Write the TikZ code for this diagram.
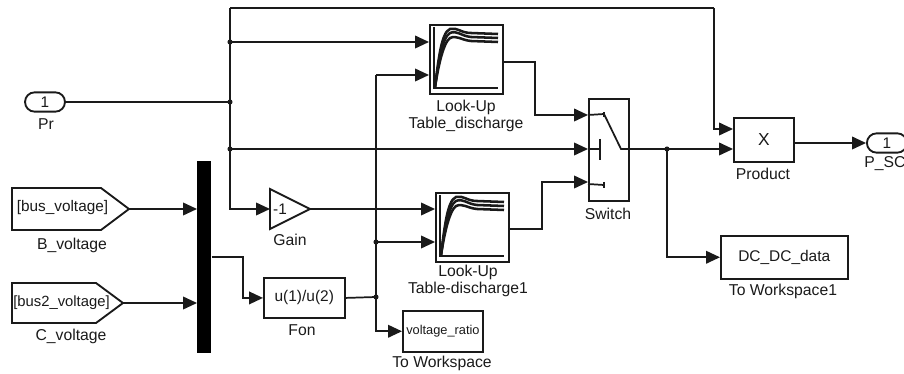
\documentclass[tikz,border=0pt]{standalone}
\usepackage{fontspec}
\setmainfont{Liberation Sans}
\usetikzlibrary{arrows.meta,shapes.misc}
\definecolor{ink}{HTML}{1A1A1A}
\tikzset{
  wire/.style={draw=ink,line width=1.3pt},
  sig/.style={wire,-{Triangle[length=10.5pt,width=9.5pt]}},
  blockbox/.style={draw=ink,line width=1.4pt,rectangle,inner sep=0pt,fill=white,font=\fontsize{11.6}{13}\selectfont,text=ink},
  portbox/.style={blockbox,rounded rectangle,font=\fontsize{11.5}{12}\selectfont},
  lbl/.style={inner sep=0pt,align=center,text=ink,font=\fontsize{11.8}{12.9}\selectfont},
  tagtext/.style={inner sep=0pt,text=ink,font=\fontsize{11.5}{13}\selectfont},
  dotj/.style={circle,fill=ink,inner sep=0pt,minimum size=3.8pt},
  lutcurve/.style={draw=ink,line width=1.9pt},
  axisline/.style={draw=ink,line width=1.2pt}
}
\newcommand{\lutbox}[3]{%
  \node[blockbox,anchor=north west,minimum width=54.5pt,minimum height=51.5pt] (#1) at (#2,#3) {};
  \begin{scope}[shift={(#2,#3)}]
    \draw[axisline] (5,3) -- (5,64) -- (69,64);
    \draw[lutcurve] (6,63) .. controls (9,40) and (12,8) .. (21,5) .. controls (28,3) and (32,9) .. (42,9) -- (69,10);
    \draw[lutcurve] (6,63) .. controls (9,42) and (13,13) .. (21,9) .. controls (28,6) and (32,12) .. (42,13) -- (69,14);
    \draw[lutcurve] (6,63) .. controls (9,44) and (14,19) .. (21,14) .. controls (28,11) and (32,16) .. (42,17) -- (69,18);
  \end{scope}%
}
\begin{document}
\begin{tikzpicture}[x=0.75pt,y=-0.75pt]
\useasboundingbox (0,0) rectangle (904,374);
% ports
\node[portbox,minimum width=30pt,minimum height=14.5pt,anchor=center] (pr) at (45,102) {1};
\node[lbl] (prl) at (46,124) {Pr};
\node[portbox,minimum width=30pt,minimum height=14.5pt,anchor=west] (psc) at (866,143) {1};
\node[lbl] (pscl) at (885,164) {P\_SC};
% goto blocks
\node[inner sep=0pt,minimum size=0pt] (bv) at (129,209) {};
\node[inner sep=0pt,minimum size=0pt] (cv) at (123,303) {};
\draw[ink,line width=1.4pt,fill=white] (12,188) -- (101,188) -- (bv.center) -- (101,230) -- (12,230) -- cycle;
\draw[ink,line width=1.4pt,fill=white] (12,283) -- (96,283) -- (cv.center) -- (96,323) -- (12,323) -- cycle;
\node[tagtext] (bvt) at (62.5,208) {[bus\_voltage]};
\node[tagtext,font=\fontsize{11.1}{13}\selectfont] (cvt) at (61.5,303) {[bus2\_voltage]};
\node[lbl] (bvl) at (72,245) {B\_voltage};
\node[lbl] (cvl) at (71,336) {C\_voltage};
% mux
\node[draw=none,fill=black,anchor=north west,inner sep=0pt,minimum width=10.5pt,minimum height=144pt] (mux) at (197,161) {};
% gain
\node[inner sep=0pt,minimum size=0pt] (gaintip) at (310,209) {};
\coordinate (gainin) at (270,209);
\draw[ink,line width=1.4pt,fill=white] (270,189) -- (gaintip.center) -- (270,229) -- cycle;
\node[tagtext] (gaint) at (280,209) {-1};
\node[lbl] (gainl) at (290,240) {Gain};
% fon
\node[blockbox,anchor=north west,minimum width=60.5pt,minimum height=30pt] (fon) at (263,277) {u(1)/u(2)};
\node[lbl] (fonl) at (302,330) {Fon};
% LUTs
\lutbox{lutA}{429}{24}
\lutbox{lutB}{435}{192}
\node[lbl] (lutAl) at (466,116) {Look-Up\\Table\_discharge};
\node[lbl] (lutBl) at (468,281) {Look-Up\\Table-discharge1};
% to workspace
\node[blockbox,anchor=north west,minimum width=60pt,minimum height=30.5pt,font=\fontsize{9.6}{11}\selectfont] (tw) at (402,310) {voltage\_ratio};
\node[lbl] (twl) at (442,363) {To Workspace};
\node[blockbox,anchor=north west,minimum width=95pt,minimum height=32pt] (dc) at (720,235) {DC\_DC\_data};
\node[lbl] (dcl) at (783,291) {To Workspace1};
% product
\node[blockbox,anchor=north west,minimum width=45pt,minimum height=33pt,font=\fontsize{13}{14}\selectfont] (prod) at (733,117) {X};
\node[lbl] (prodl) at (763,174) {Product};
% switch
\node[blockbox,anchor=north west,minimum width=30pt,minimum height=76.5pt] (sw) at (588,98) {};
\node[lbl] (swl) at (608,214) {Switch};
\draw[wire] (sw.west |- 0,115) -- (604,114) -- (621,149) -- (sw.east |- 0,149);
\draw[wire,line width=2pt] (604,112) -- (604,117);
\draw[wire] (sw.west |- 0,149) -- (600,149);
\draw[wire,line width=1.5pt] (600,139) -- (600,160);
\draw[wire] (sw.west |- 0,184) -- (604,185);
\draw[wire,line width=2pt] (604,182) -- (604,188);
% junctions
\coordinate (j1) at (230,102);
\coordinate (j2) at (230,42);
\coordinate (j3) at (230,149);
\coordinate (j4) at (376,242);
\coordinate (j5) at (376,297);
\coordinate (j6) at (667,149);
\coordinate (topL) at (230,8);
\coordinate (topR) at (714,8);
\coordinate (lutAin2) at (376,75);
% wires
\draw[wire] (pr.east) -- (j1);
\draw[wire] (topL) -- (j3);
\draw[sig] (j3) |- (gainin);
\draw[wire] (topL) -- (topR);
\draw[sig] (topR) |- (prod.west |- 0,129);
\draw[sig] (j2) -- (lutA.west |- j2);
\draw[sig] (j3) -- (sw.west |- j3);
\draw[sig] (lutA.east |- 0,62) -- (535,62) |- (sw.west |- 0,115);
\draw[sig] (lutB.east |- 0,229) -- (542,229) |- (sw.west |- 0,182);
\draw[wire] (sw.east |- j6) -- (j6);
\draw[sig] (j6) -- (prod.west |- j6);
\draw[sig] (j6) |- (dc.west);
\draw[sig] (prod.east |- psc.west) -- (psc.west);
\draw[sig] (gaintip.center) -- (lutB.west |- gaintip);
\draw[sig] (lutAin2) -- (lutA.west |- lutAin2);
\draw[wire] (lutAin2) -- (j5);
\draw[sig] (j5) |- (tw.west);
\draw[sig] (j4) -- (lutB.west |- j4);
\draw[wire] (fon.east) -- (j5);
\draw[sig] (bv.center) -- (mux.west |- bv);
\draw[sig] (cv.center) -- (mux.west |- cv);
\draw[sig] (mux.east |- 0,257) -- (243,257) |- (fon.west);
% dots
\foreach \p/\q in {j1/a,j2/b,j3/c,j4/d,j5/e,j6/f} \node[dotj] (dot\q) at (\p) {};
\end{tikzpicture}
\end{document}
